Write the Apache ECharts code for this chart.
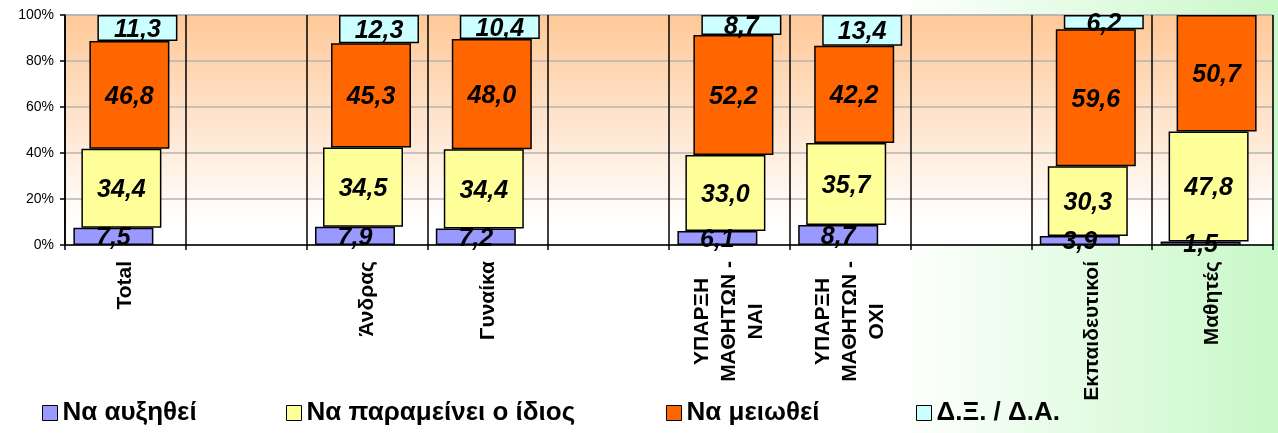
<!DOCTYPE html>
<html>
<head>
<meta charset="utf-8">
<script src="https://cdn.jsdelivr.net/npm/echarts@6/dist/echarts.min.js"></script>
<style>
html,body{margin:0;padding:0;}
#c{width:1278px;height:433px;}
</style>
</head>
<body>
<div id="c"></div>
<script>
var categories = ['Total', ' ', 'Άνδρας', 'Γυναίκα', '  ', 'ΥΠΑΡΞΗ\nΜΑΘΗΤΩΝ -\nΝΑΙ', 'ΥΠΑΡΞΗ\nΜΑΘΗΤΩΝ -\nΟΧΙ', '   ', 'Εκπαιδευτικοί', 'Μαθητές'];
var seriesNames = ['Να αυξηθεί', 'Να παραμείνει ο ίδιος', 'Να μειωθεί', 'Δ.Ξ. / Δ.Α.'];
var increase = [7.5, null, 7.9, 7.2, null, 6.1, 8.7, null, 3.9, 1.5];
var same = [34.4, null, 34.5, 34.4, null, 33.0, 35.7, null, 30.3, 47.8];
var decrease = [46.8, null, 45.3, 48.0, null, 52.2, 42.2, null, 59.6, 50.7];
var dkna = [11.3, null, 12.3, 10.4, null, 8.7, 13.4, null, 6.2, null];
var yTicks = [0, 20, 40, 60, 80, 100];

var colors = ['#9999FF', '#FFFF99', '#FF6600', '#CCFFFF'];
var values = [increase, same, decrease, dkna];
var FONT = "'Liberation Sans', Arial, sans-serif";

function cumulative(upto) {
  return categories.map(function (c, i) {
    if (values[0][i] == null) return null;
    var s = 0;
    for (var k = 0; k < upto; k++) { s += values[k][i] || 0; }
    return s;
  });
}

var series = [];
for (var k = 0; k < 4; k++) {
  var stack = 'st' + k;
  if (k > 0) {
    series.push({
      type: 'bar', name: 'base' + k, stack: stack, data: cumulative(k),
      barWidth: 80, barGap: '-90%',
      itemStyle: { color: 'rgba(0,0,0,0)', borderWidth: 0 },
      label: { show: false }, silent: true
    });
  }
  series.push({
    type: 'bar', name: seriesNames[k], stack: stack, data: values[k],
    barWidth: 80, barGap: '-90%',
    itemStyle: { color: colors[k], borderColor: '#000', borderWidth: 1.5 },
    label: {
      show: true, position: 'inside', color: '#000', offset: [0, 2],
      fontFamily: FONT, fontSize: 25, fontWeight: 'bold', fontStyle: 'italic',
      formatter: function (p) { return (p.value == null || p.value === 0) ? '' : p.value.toFixed(1).replace('.', ','); }
    }
  });
}

var legendLefts = [37, 281, 661, 911];
var legends = seriesNames.map(function (n, i) {
  return {
    data: [n], left: legendLefts[i], top: 395,
    icon: 'rect', itemWidth: 15, itemHeight: 15,
    itemStyle: { borderColor: '#000', borderWidth: 1 },
    textStyle: { fontFamily: FONT, fontSize: 26, fontWeight: 'bold', color: '#000' }
  };
});

var chart = echarts.init(document.getElementById('c'));
chart.setOption({
  animation: false,
  backgroundColor: {
    type: 'linear', x: 0, y: 0, x2: 1, y2: 0,
    colorStops: [
      { offset: 0, color: '#FFFFFF' },
      { offset: 0.7, color: '#FFFFFF' },
      { offset: 1, color: '#C8F8C8' }
    ]
  },
  color: colors,
  legend: legends,
  grid: {
    left: 65, right: 5, top: 15, bottom: 188, show: true,
    borderColor: '#999999', borderWidth: 1,
    backgroundColor: {
      type: 'linear', x: 0, y: 0, x2: 0, y2: 1,
      colorStops: [
        { offset: 0, color: '#FFC898' },
        { offset: 0.9, color: '#FFFFFF' },
        { offset: 1, color: '#FFFFFF' }
      ]
    }
  },
  xAxis: {
    type: 'category', data: categories,
    axisLine: { lineStyle: { color: '#000', width: 1.5 } },
    axisTick: { show: true, length: 5, interval: 0, lineStyle: { color: '#000', width: 1.5 } },
    splitLine: { show: true, interval: 0, lineStyle: { color: '#000', width: 1.5 } },
    axisLabel: {
      interval: 0, rotate: 90, margin: 16, color: '#000',
      fontFamily: FONT, fontSize: 21, fontWeight: 'bold',
      formatter: function (v) {
        return v.split('\n').map(function (l) { return '{c|' + l + '}'; }).join('\n');
      },
      rich: { c: { align: 'center', fontFamily: FONT, fontSize: 21, fontWeight: 'bold', color: '#000', lineHeight: 27 } }
    }
  },
  yAxis: {
    type: 'value', min: 0, max: 100, interval: 20,
    axisLine: { show: true, lineStyle: { color: '#000', width: 1.5 } },
    axisTick: { show: true, length: 5, lineStyle: { color: '#000', width: 1.5 } },
    splitLine: { show: true, lineStyle: { color: '#B4B4B4', width: 1.5 } },
    axisLabel: {
      margin: 11, color: '#000', fontFamily: FONT, fontSize: 14,
      formatter: function (v) { return yTicks.indexOf(v) >= 0 ? v + '%' : ''; }
    }
  },
  series: series
});
</script>
</body>
</html>
